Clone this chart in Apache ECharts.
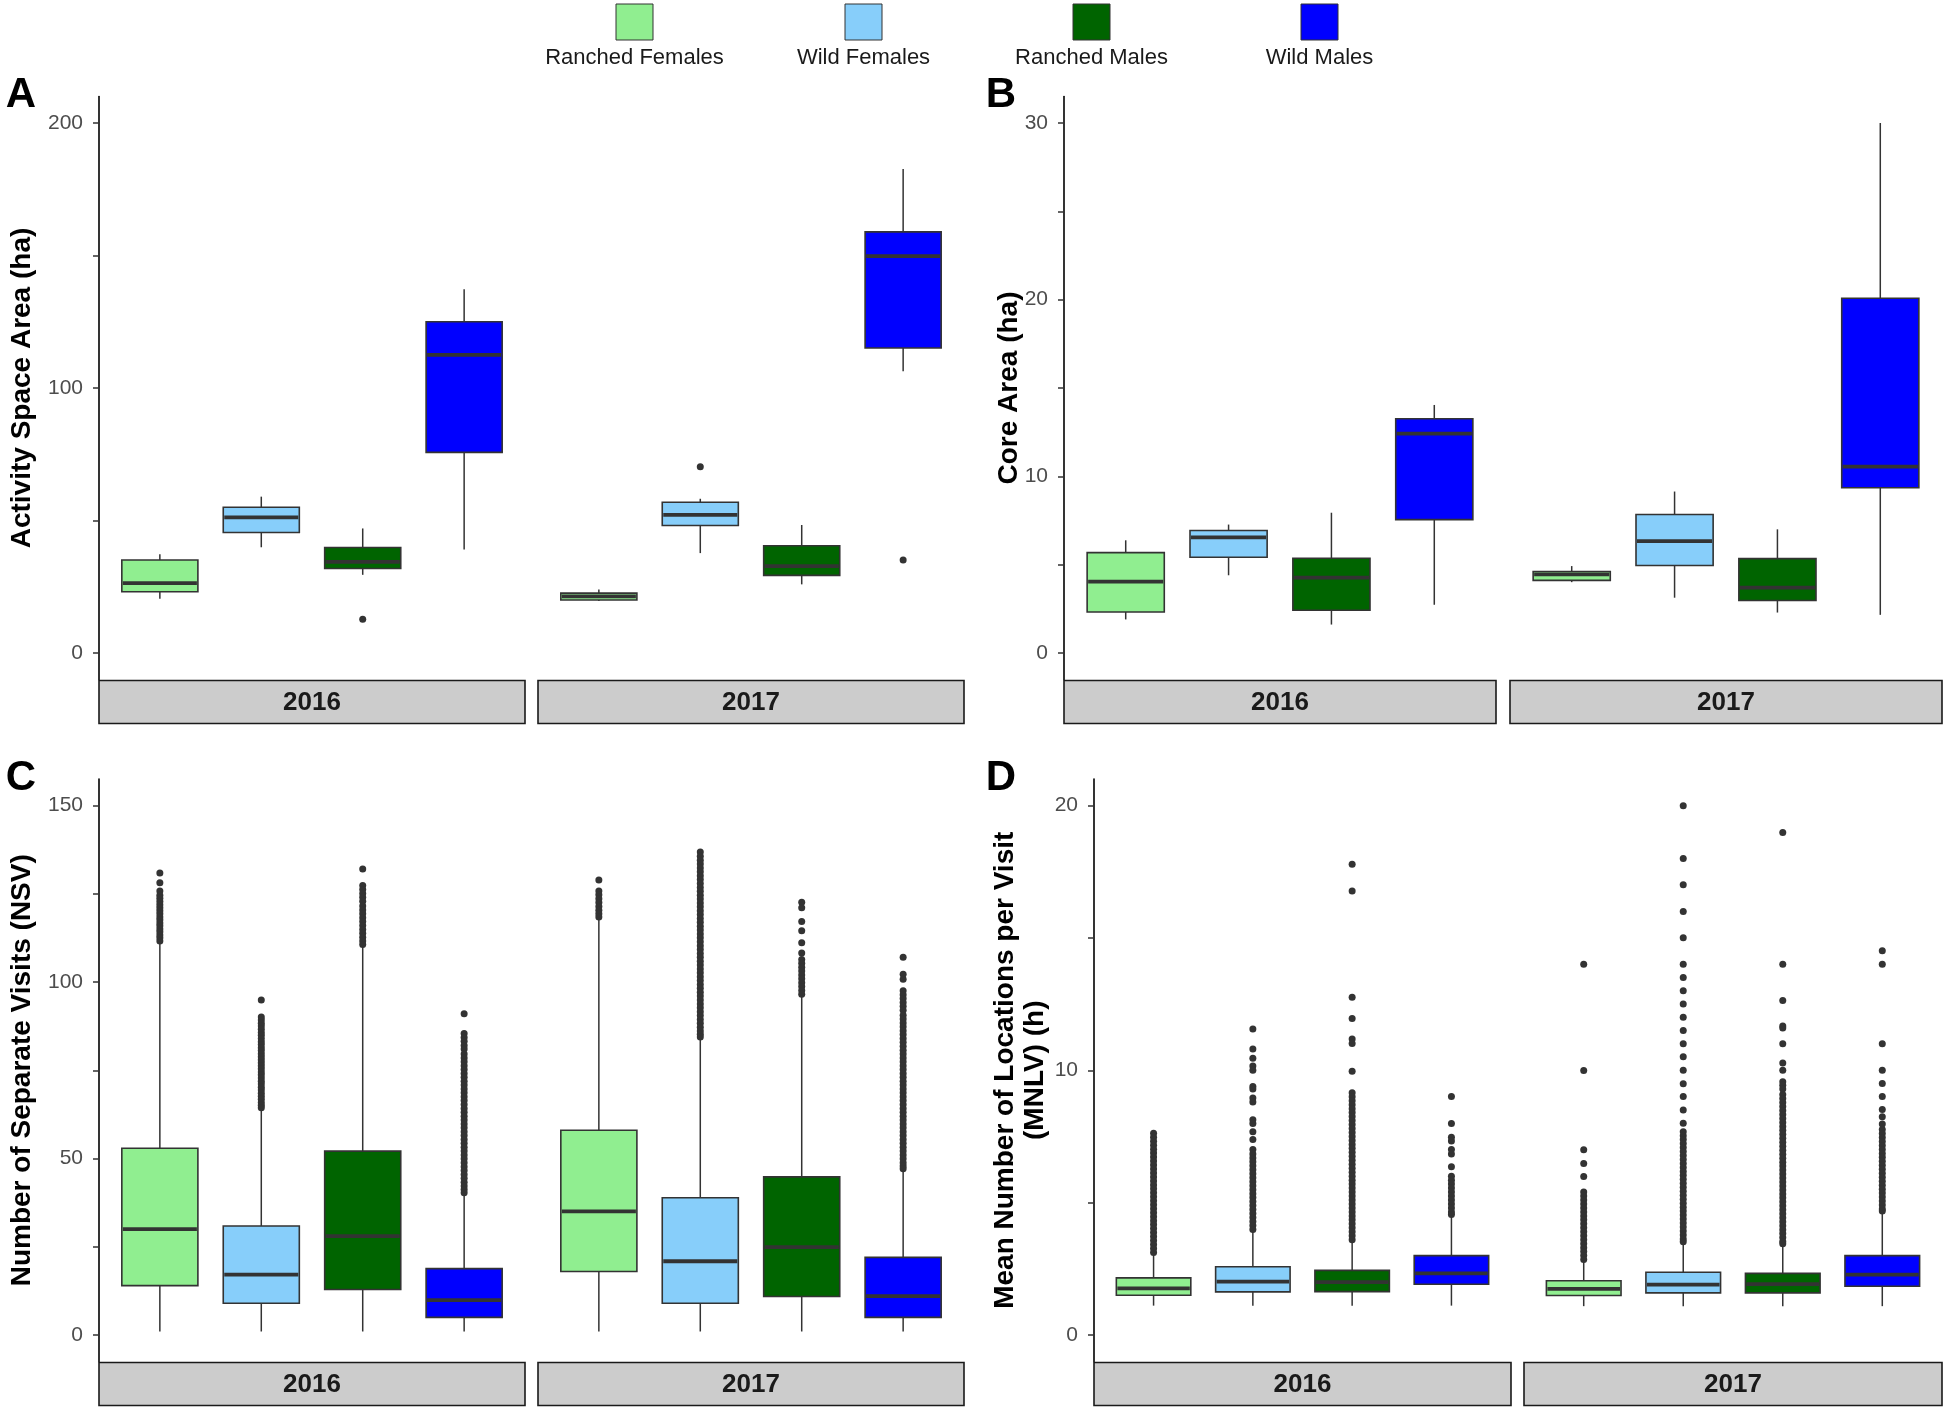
<!DOCTYPE html>
<html><head><meta charset="utf-8">
<script src="https://cdn.jsdelivr.net/npm/echarts@6/dist/echarts.min.js"></script>
<style>html,body{margin:0;padding:0;background:#fff}#chart{width:1946px;height:1411px}</style>
</head><body><div id="chart"></div>
<script>
// ---------- data ----------
const groups = ['Ranched Females', 'Wild Females', 'Ranched Males', 'Wild Males'];
const years = ['2016', '2017'];
const groupColors = ['#90EE90', '#87CEFA', '#006400', '#0000FF'];

// Box stats per group: [lower whisker, Q1, median, Q3, upper whisker]
// Panel A – Activity Space Area (ha)
const activityBox2016 = [[20.5, 23.1, 26.4, 35.1, 37.3], [39.9, 45.5, 51.2, 55.0, 59.0], [29.5, 31.9, 34.4, 39.8, 47.0], [39.1, 75.7, 112.5, 125.0, 137.3]];
const activityBox2017 = [[19.6, 20.0, 21.4, 22.6, 24.0], [37.7, 48.1, 52.1, 56.9, 58.2], [25.9, 29.3, 32.8, 40.5, 48.3], [106.3, 115.1, 149.8, 158.9, 182.6]];
const activityOut2016 = [[], [], [12.7], []];
const activityOut2017 = [[], [70.3], [], [35.1]];
const activityTicks = [0, 50, 100, 150, 200];
const activityLabels = [0, 100, 200];

// Panel B – Core Area (ha)
const coreBox2016 = [[1.90, 2.32, 4.04, 5.68, 6.38], [4.40, 5.42, 6.54, 6.93, 7.27], [1.61, 2.42, 4.27, 5.36, 7.94], [2.73, 7.55, 12.42, 13.26, 14.04]];
const coreBox2017 = [[4.01, 4.11, 4.45, 4.61, 4.92], [3.13, 4.95, 6.33, 7.84, 9.14], [2.29, 2.97, 3.70, 5.34, 7.0], [2.16, 9.35, 10.55, 20.08, 30.0]];
const coreOut2016 = [[], [], [], []];
const coreOut2017 = [[], [], [], []];
const coreTicks = [0, 5, 10, 15, 20, 25, 30];
const coreLabels = [0, 10, 20, 30];

// Panel C – Number of Separate Visits (NSV)
const nsvBox2016 = [[1.0, 14.0, 30.0, 52.9, 111.1], [1.0, 9.0, 17.1, 30.9, 64.0], [1.0, 12.9, 28.0, 52.1, 110.3], [1.0, 5.0, 9.9, 18.8, 40.0]];
const nsvBox2017 = [[1.0, 18.0, 35.0, 58.0, 118.0], [1.0, 9.0, 20.9, 38.9, 84.0], [1.0, 10.9, 24.9, 44.8, 96.0], [1.0, 5.0, 11.0, 22.0, 46.8]];
const nsvOut2016 = [
  [130.9, 128.1, 125.8, 124.6, 123.7, 122.8, 121.9, 121.0, 120.2, 119.3, 118.4, 117.6, 116.7, 115.9, 115.0, 114.2, 113.3, 112.5, 111.6],
  [94.9, 90.1, 89.2, 88.3, 87.5, 86.6, 85.7, 84.9, 84.0, 83.1, 82.3, 81.4, 80.6, 79.7, 78.8, 78.0, 77.1, 76.3, 75.4, 74.5, 73.7, 72.8, 71.9, 71.1, 70.2, 69.4, 68.5, 67.6, 66.8, 65.9, 65.1, 64.4],
  [132.0, 127.3, 126.2, 125.1, 124.0, 122.9, 121.5, 120.4, 119.3, 118.2, 117.1, 116.0, 114.9, 113.8, 112.7, 111.6, 110.6],
  [91.0, 85.4, 84.3, 83.2, 82.0, 81.0, 79.6, 78.5, 77.4, 76.3, 75.2, 74.1, 73.0, 71.9, 70.8, 69.7, 68.6, 67.5, 66.4, 65.3, 64.2, 63.1, 62.0, 60.9, 59.8, 58.7, 57.6, 56.5, 55.4, 54.3, 53.2, 52.1, 51.0, 49.9, 48.8, 47.7, 46.6, 45.5, 44.4, 43.3, 42.2, 41.2, 40.3]
];
const nsvOut2017 = [
  [128.9, 125.8, 124.7, 123.6, 122.5, 121.4, 120.3, 119.3, 118.4],
  [136.8, 135.6, 134.5, 133.4, 132.3, 131.2, 130.1, 129.0, 127.9, 126.8, 125.7, 124.6, 123.5, 122.4, 121.3, 120.2, 119.1, 118.0, 116.9, 115.8, 114.7, 113.6, 112.5, 111.4, 110.3, 109.2, 108.1, 107.0, 105.9, 104.8, 103.7, 102.6, 101.5, 100.4, 99.3, 98.2, 97.1, 96.0, 94.9, 93.8, 92.7, 91.6, 90.5, 89.4, 88.3, 87.2, 86.1, 85.2, 84.4],
  [122.6, 121.0, 117.1, 114.5, 111.1, 108.2, 106.4, 105.3, 104.2, 103.1, 102.0, 100.9, 99.8, 98.7, 97.6, 96.5],
  [107.0, 102.2, 100.8, 97.5, 96.4, 95.3, 94.2, 93.1, 92.0, 90.6, 89.5, 88.4, 87.3, 86.2, 85.1, 84.0, 82.9, 81.8, 80.7, 79.6, 78.5, 77.4, 76.3, 75.2, 74.1, 73.0, 71.9, 70.8, 69.7, 68.6, 67.5, 66.4, 65.3, 64.2, 63.1, 62.0, 60.9, 59.8, 58.7, 57.6, 56.5, 55.4, 54.3, 53.2, 52.1, 51.0, 49.9, 48.8, 47.9, 47.1]
];
const nsvTicks = [0, 25, 50, 75, 100, 125, 150];
const nsvLabels = [0, 50, 100, 150];

// Panel D – Mean Number of Locations per Visit (MNLV) (h)
const mnlvBox2016 = [[1.11, 1.50, 1.76, 2.16, 3.05], [1.11, 1.63, 2.02, 2.58, 3.95], [1.11, 1.64, 2.0, 2.44, 3.5], [1.11, 1.92, 2.33, 3.0, 4.52]];
const mnlvBox2017 = [[1.09, 1.49, 1.74, 2.05, 2.77], [1.09, 1.59, 1.90, 2.37, 3.47], [1.09, 1.59, 1.92, 2.33, 3.40], [1.09, 1.84, 2.28, 3.0, 4.65]];
const mnlvOut2016 = [
  [7.62, 7.47, 7.32, 7.17, 7.02, 6.87, 6.72, 6.57, 6.42, 6.27, 6.12, 5.97, 5.82, 5.67, 5.52, 5.37, 5.22, 5.07, 4.92, 4.77, 4.62, 4.47, 4.32, 4.17, 4.02, 3.87, 3.72, 3.57, 3.42, 3.27, 3.12],
  [11.56, 10.80, 10.45, 10.16, 10.0, 9.39, 9.29, 8.95, 8.80, 8.13, 7.99, 7.68, 7.38, 7.01, 6.84, 6.69, 6.54, 6.39, 6.24, 6.09, 5.94, 5.79, 5.64, 5.49, 5.34, 5.19, 5.04, 4.89, 4.74, 4.59, 4.44, 4.29, 4.14, 3.99],
  [17.78, 16.77, 12.76, 11.95, 11.18, 11.01, 9.96, 9.15, 9.0, 8.85, 8.70, 8.55, 8.40, 8.25, 8.10, 7.95, 7.80, 7.65, 7.50, 7.35, 7.20, 7.05, 6.90, 6.75, 6.60, 6.45, 6.30, 6.15, 6.0, 5.85, 5.70, 5.55, 5.40, 5.25, 5.10, 4.95, 4.80, 4.65, 4.50, 4.35, 4.20, 4.05, 3.90, 3.75, 3.60],
  [9.01, 7.99, 7.47, 7.33, 7.01, 6.84, 6.36, 6.0, 5.85, 5.70, 5.55, 5.40, 5.25, 5.10, 4.95, 4.80, 4.65, 4.55]
];
const mnlvOut2017 = [
  [14.0, 9.99, 7.0, 6.48, 5.99, 5.40, 5.25, 5.10, 4.95, 4.80, 4.65, 4.50, 4.35, 4.20, 4.05, 3.90, 3.75, 3.60, 3.45, 3.30, 3.15, 3.0, 2.85],
  [19.99, 18.0, 17.01, 16.0, 15.0, 14.0, 13.5, 13.0, 12.5, 12.0, 11.5, 11.0, 10.51, 10.0, 9.49, 9.01, 8.5, 8.0, 7.68, 7.53, 7.38, 7.23, 7.08, 6.93, 6.78, 6.63, 6.48, 6.33, 6.18, 6.03, 5.88, 5.73, 5.58, 5.43, 5.28, 5.13, 4.98, 4.83, 4.68, 4.53, 4.38, 4.23, 4.08, 3.93, 3.78, 3.63, 3.52],
  [18.98, 14.0, 12.63, 11.67, 11.6, 11.0, 10.27, 10.0, 9.57, 9.43, 9.29, 9.08, 8.93, 8.78, 8.63, 8.48, 8.33, 8.18, 8.03, 7.88, 7.73, 7.58, 7.43, 7.28, 7.13, 6.98, 6.83, 6.68, 6.53, 6.38, 6.23, 6.08, 5.93, 5.78, 5.63, 5.48, 5.33, 5.18, 5.03, 4.88, 4.73, 4.58, 4.43, 4.28, 4.13, 3.98, 3.83, 3.68, 3.53, 3.45],
  [14.51, 14.0, 11.0, 10.0, 9.5, 9.01, 8.52, 8.24, 7.97, 7.76, 7.61, 7.46, 7.31, 7.16, 7.01, 6.86, 6.71, 6.56, 6.41, 6.26, 6.11, 5.96, 5.81, 5.66, 5.51, 5.36, 5.21, 5.06, 4.91, 4.76, 4.68]
];
const mnlvTicks = [0, 5, 10, 15, 20];
const mnlvLabels = [0, 10, 20];

// ---------- layout / styles ----------
const FONT = "'Liberation Sans', Arial, Helvetica, sans-serif";
const INK = '#333333';

const panels = [
  { letter: 'A', box: [activityBox2016, activityBox2017], out: [activityOut2016, activityOut2017], range: [-10, 210], ticks: activityTicks, labels: activityLabels, title: 'Activity Space Area (ha)',
    top: 96.5, height: 583, facets: [[99, 426], [538, 426]], titleX: 22, letterX: 21 },
  { letter: 'B', box: [coreBox2016, coreBox2017], out: [coreOut2016, coreOut2017], range: [-1.5, 31.5], ticks: coreTicks, labels: coreLabels, title: 'Core Area (ha)',
    top: 96.5, height: 583, facets: [[1064, 432], [1510, 432]], titleX: 1009, letterX: 1001 },
  { letter: 'C', box: [nsvBox2016, nsvBox2017], out: [nsvOut2016, nsvOut2017], range: [-7.5, 157.5], ticks: nsvTicks, labels: nsvLabels, title: 'Number of Separate Visits (NSV)',
    top: 779, height: 582.5, facets: [[99, 426], [538, 426]], titleX: 22, letterX: 21 },
  { letter: 'D', box: [mnlvBox2016, mnlvBox2017], out: [mnlvOut2016, mnlvOut2017], range: [-1, 21], ticks: mnlvTicks, labels: mnlvLabels, title: 'Mean Number of Locations per Visit\n(MNLV) (h)',
    top: 779, height: 582.5, facets: [[1094, 417], [1524, 418]], titleX: 1020, letterX: 1001 }
];

// x positions follow ggplot's discrete scale: groups at 1..4, expanded by 0.6 each side
function renderBox(params, api) {
  const x = api.value(0);
  const pLo = api.coord([x, api.value(1)]);
  const pQ1 = api.coord([x, api.value(2)]);
  const pMd = api.coord([x, api.value(3)]);
  const pQ3 = api.coord([x, api.value(4)]);
  const pHi = api.coord([x, api.value(5)]);
  const bw = api.size([0.75, 0])[0];
  const cx = pMd[0];
  const x0 = cx - bw / 2;
  return {
    type: 'group',
    children: [
      { type: 'line', shape: { x1: cx, y1: pQ3[1], x2: cx, y2: pHi[1] }, style: { stroke: INK, lineWidth: 1.5 } },
      { type: 'line', shape: { x1: cx, y1: pQ1[1], x2: cx, y2: pLo[1] }, style: { stroke: INK, lineWidth: 1.5 } },
      { type: 'rect', shape: { x: x0, y: pQ3[1], width: bw, height: pQ1[1] - pQ3[1] }, style: { fill: groupColors[x - 1], stroke: INK, lineWidth: 1.6 } },
      { type: 'line', shape: { x1: x0 + 1, y1: pMd[1], x2: x0 + bw - 1, y2: pMd[1] }, style: { stroke: INK, lineWidth: 3.8 } }
    ]
  };
}

const grid = [], xAxis = [], yAxis = [], series = [], graphic = [];

panels.forEach((p) => {
  p.facets.forEach((f, j) => {
    const g = grid.length;
    grid.push({ left: f[0], top: p.top, width: f[1], height: p.height, containLabel: false, outerBoundsMode: 'none' });
    xAxis.push({ type: 'value', gridIndex: g, min: 0.4, max: 4.6, show: false, splitLine: { show: false } });
    yAxis.push({
      type: 'value', gridIndex: g, min: p.range[0], max: p.range[1], show: j === 0,
      axisLine: { show: true, lineStyle: { color: '#000', width: 1.6 } },
      axisTick: { show: true, customValues: p.ticks, length: 6, lineStyle: { color: INK, width: 1.5 } },
      axisLabel: { show: true, customValues: p.labels, color: '#4d4d4d', fontSize: 21, fontFamily: FONT, margin: 16 },
      splitLine: { show: false }
    });
    series.push({
      type: 'custom', xAxisIndex: g, yAxisIndex: g, renderItem: renderBox,
      encode: { x: 0, y: [1, 2, 3, 4, 5] },
      data: groups.map((name, i) => [i + 1].concat(p.box[j][i])),
      silent: true, z: 2
    });
    const pts = [];
    groups.forEach((name, i) => p.out[j][i].forEach(v => pts.push([i + 1, v])));
    series.push({
      type: 'scatter', xAxisIndex: g, yAxisIndex: g, data: pts, symbolSize: 7,
      itemStyle: { color: INK, opacity: 1 }, silent: true, z: 3
    });
    // facet strip
    const stripTop = p.top + p.height + 1;
    graphic.push({ type: 'rect', shape: { x: f[0], y: stripTop, width: f[1], height: 43 }, style: { fill: '#CCCCCC', stroke: '#1a1a1a', lineWidth: 1.6 }, silent: true });
    graphic.push({ type: 'text', x: f[0] + f[1] / 2, y: stripTop + 22, style: { text: years[j], font: 'bold 26px ' + FONT, fill: '#1a1a1a', align: 'center', verticalAlign: 'middle' }, silent: true });
  });
  // y title
  graphic.push({ type: 'text', x: p.titleX, y: p.top + p.height / 2, rotation: Math.PI / 2,
    style: { text: p.title, font: 'bold 28px ' + FONT, fill: '#000', align: 'center', verticalAlign: 'middle', lineHeight: 30 }, silent: true });
  // panel letter
  graphic.push({ type: 'text', x: p.letterX, y: p.top - 1, style: { text: p.letter, font: 'bold 42px ' + FONT, fill: '#000', align: 'center', verticalAlign: 'middle' }, silent: true });
});

// legend (keys above labels)
const legendCenters = [634.5, 863.5, 1091.5, 1319.5];
groups.forEach((name, i) => {
  graphic.push({ type: 'rect', shape: { x: legendCenters[i] - 18.5, y: 4, width: 37, height: 36 }, style: { fill: groupColors[i], stroke: INK, lineWidth: 1 }, silent: true });
  graphic.push({ type: 'text', x: legendCenters[i], y: 58, style: { text: name, font: '22px ' + FONT, fill: '#1a1a1a', align: 'center', verticalAlign: 'middle' }, silent: true });
});

const chart = echarts.init(document.getElementById('chart'), null, { renderer: 'canvas' });
chart.setOption({ animation: false, backgroundColor: '#ffffff', grid, xAxis, yAxis, series, graphic });
</script></body></html>
